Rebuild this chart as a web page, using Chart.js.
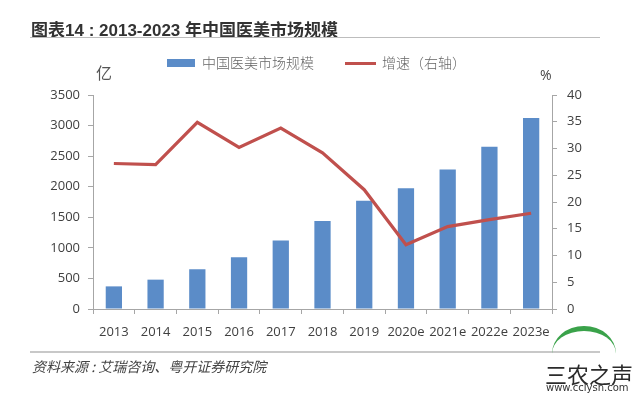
<!DOCTYPE html>
<html><head><meta charset="utf-8">
<script src="https://cdn.jsdelivr.net/npm/chart.js@4/dist/chart.umd.min.js"></script>
<style>
html,body{margin:0;padding:0;background:#fff;}
#wrap{position:relative;width:640px;height:395px;overflow:hidden;background:#fff;}
#c{position:absolute;left:0;top:0;}
.t{position:absolute;white-space:nowrap;}
#title{left:31px;top:16px;font-family:"Liberation Sans","Noto Sans CJK SC",sans-serif;font-weight:bold;font-size:17px;color:#333;}
#hr1{position:absolute;left:30px;top:37px;width:570px;height:1px;background:#bdbdbd;}
#hr2{position:absolute;left:30px;top:351px;width:570px;height:2px;background:#c8c8c8;}
.leg{font-family:"Noto Sans CJK SC",sans-serif;font-size:14px;color:#666;font-weight:300;}
#src{left:32px;top:356px;font-family:"Noto Sans CJK SC",sans-serif;font-style:italic;font-size:14px;color:#444;}
</style></head>
<body><div id="wrap">
<canvas id="c" width="640" height="395"></canvas>
<div class="t" id="title">图表14 : 2013-2023 年中国医美市场规模</div>
<div id="hr1"></div>
<div style="position:absolute;left:167px;top:59px;width:28px;height:8px;background:#5b8cc8;"></div>
<div class="t leg" style="left:202px;top:52px;">中国医美市场规模</div>
<div style="position:absolute;left:345px;top:62px;width:31px;height:3px;background:#c0504d;"></div>
<div class="t leg" style="left:382px;top:52px;">增速（右轴）</div>
<div class="t" style="left:96px;top:60px;font-family:'Noto Sans CJK SC',sans-serif;font-size:16px;color:#555;">亿</div>
<div class="t" style="left:540px;top:65px;font-family:'Open Sans',sans-serif;font-size:14px;color:#444;">%</div>
<div id="hr2"></div>
<div class="t" id="src">资料来源 : 艾瑞咨询、粤开证券研究院</div>
<div style="position:absolute;left:552px;top:326px;width:64px;height:50px;border-top:5px solid #3aa24a;border-radius:50% 50% 0 0;"></div>
<div class="t" style="left:545px;top:357px;font-family:'Noto Sans CJK SC',sans-serif;font-size:22px;color:#2b2b2b;">三农之声</div>
<div class="t" style="left:546px;top:382px;font-family:'DejaVu Sans',sans-serif;font-size:10px;color:#333;">www.cclysn.com</div>
</div>
<script>
const categories = ['2013','2014','2015','2016','2017','2018','2019','2020e','2021e','2022e','2023e'];
const marketSize = [370, 480, 650, 845, 1120, 1440, 1770, 1975, 2280, 2655, 3125];
const growthRate = [27.2, 27.0, 34.9, 30.2, 33.8, 29.2, 22.3, 12.0, 15.4, 16.7, 17.9];
const leftTicks = [0,500,1000,1500,2000,2500,3000,3500];
const rightTicks = [0,5,10,15,20,25,30,35,40];

const axisColor = '#a6a6a6';
const tickFont = {family:'Open Sans', size:13};
const plain = v => String(v);
new Chart(document.getElementById('c'), {
  data: {
    labels: categories,
    datasets: [
      {type:'line', label:'增速（右轴）', data: growthRate, yAxisID:'y1', borderColor:'#c0504d', borderWidth:3.2, pointRadius:0, tension:0, order:0},
      {type:'bar', label:'中国医美市场规模', data: marketSize, yAxisID:'y', backgroundColor:'#5b8cc8', barPercentage:0.39, categoryPercentage:1, order:1}
    ]
  },
  options: {
    responsive:false, animation:false,
    layout:{padding:{left:20, right:40, top:95, bottom:56}},
    plugins:{legend:{display:false}, tooltip:{enabled:false}},
    scales:{
      x:{
        grid:{display:true, drawOnChartArea:false, drawTicks:true, tickLength:5, color:axisColor, offset:true},
        border:{color:axisColor},
        ticks:{color:'#404040', font:tickFont, maxRotation:0, autoSkip:false, padding:10},
        afterFit(s){ s.height = 30; }
      },
      y:{
        position:'left', min:0, max:3500,
        afterBuildTicks(s){ s.ticks = leftTicks.map(v=>({value:v})); },
        grid:{display:true, drawOnChartArea:false, drawTicks:true, tickLength:5, color:axisColor},
        border:{color:axisColor},
        ticks:{color:'#404040', font:tickFont, padding:8, callback: plain},
        afterFit(s){ s.width = 73; }
      },
      y1:{
        position:'right', min:0, max:40,
        afterBuildTicks(s){ s.ticks = rightTicks.map(v=>({value:v})); },
        grid:{display:true, drawOnChartArea:false, drawTicks:true, tickLength:5, color:axisColor},
        border:{color:axisColor},
        ticks:{color:'#404040', font:tickFont, padding:10, callback: plain},
        afterFit(s){ s.width = 48; }
      }
    }
  }
});
</script>
</body></html>
